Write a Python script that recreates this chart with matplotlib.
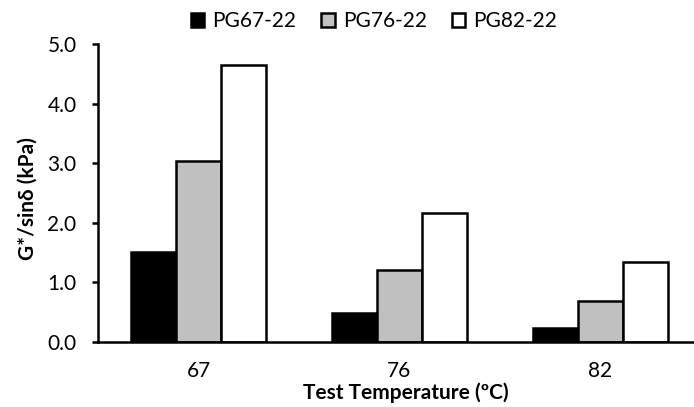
import matplotlib
matplotlib.use("Agg")
import matplotlib.pyplot as plt
import numpy as np

categories = ["67", "76", "82"]
series_names = ["PG67-22", "PG76-22", "PG82-22"]
pg67 = [1.51, 0.49, 0.24]
pg76 = [3.04, 1.21, 0.68]
pg82 = [4.64, 2.16, 1.34]
yticks = [0.0, 1.0, 2.0, 3.0, 4.0, 5.0]

plt.rcParams['font.family'] = ['Lato', 'DejaVu Sans']

fig = plt.figure(figsize=(6.94, 4.07), dpi=100)
# axes: left spine at x=98px, baseline at y=342px, top (5.0) at y=44px
ax = fig.add_axes([98 / 694, (407 - 342) / 407, 603 / 694, 298 / 407])

x = np.arange(len(categories))
w = 0.224
colors = ["black", "#c0c0c0", "white"]
for i, (vals, name) in enumerate(zip([pg67, pg76, pg82], series_names)):
    ax.bar(x + (i - 1) * w, vals, width=w, color=colors[i], edgecolor="black",
           linewidth=1.8, label=name)

ax.set_xlim(-0.5, 2.5)
ax.set_ylim(0, 5.0)
ax.set_yticks(yticks)
ax.set_yticklabels([f"{v:.1f}" for v in yticks], fontsize=15)
ax.set_xticks(x)
ax.set_xticklabels(categories, fontsize=15)
ax.tick_params(axis='x', length=0, pad=14)
ax.tick_params(axis='y', direction='out', length=4.5, width=1.8, pad=11)
for s in ["top", "right"]:
    ax.spines[s].set_visible(False)
for s in ["left", "bottom"]:
    ax.spines[s].set_linewidth(1.8)

ax.set_ylabel("G*/sinδ (kPa)", fontsize=15, fontweight='bold')
ax.yaxis.set_label_coords(-0.1, 0.48)
ax.set_xlabel("Test Temperature (ºC)", fontsize=15, fontweight='bold')
ax.xaxis.set_label_coords(0.511, -0.135)

leg = fig.legend(loc='center', bbox_to_anchor=(374 / 694, 1 - 21 / 407), ncol=3, frameon=False,
                 fontsize=15, handlelength=0.65, handleheight=0.65, handletextpad=0.38,
                 columnspacing=1.2, borderaxespad=0)

fig.savefig("out.png", dpi=100)
